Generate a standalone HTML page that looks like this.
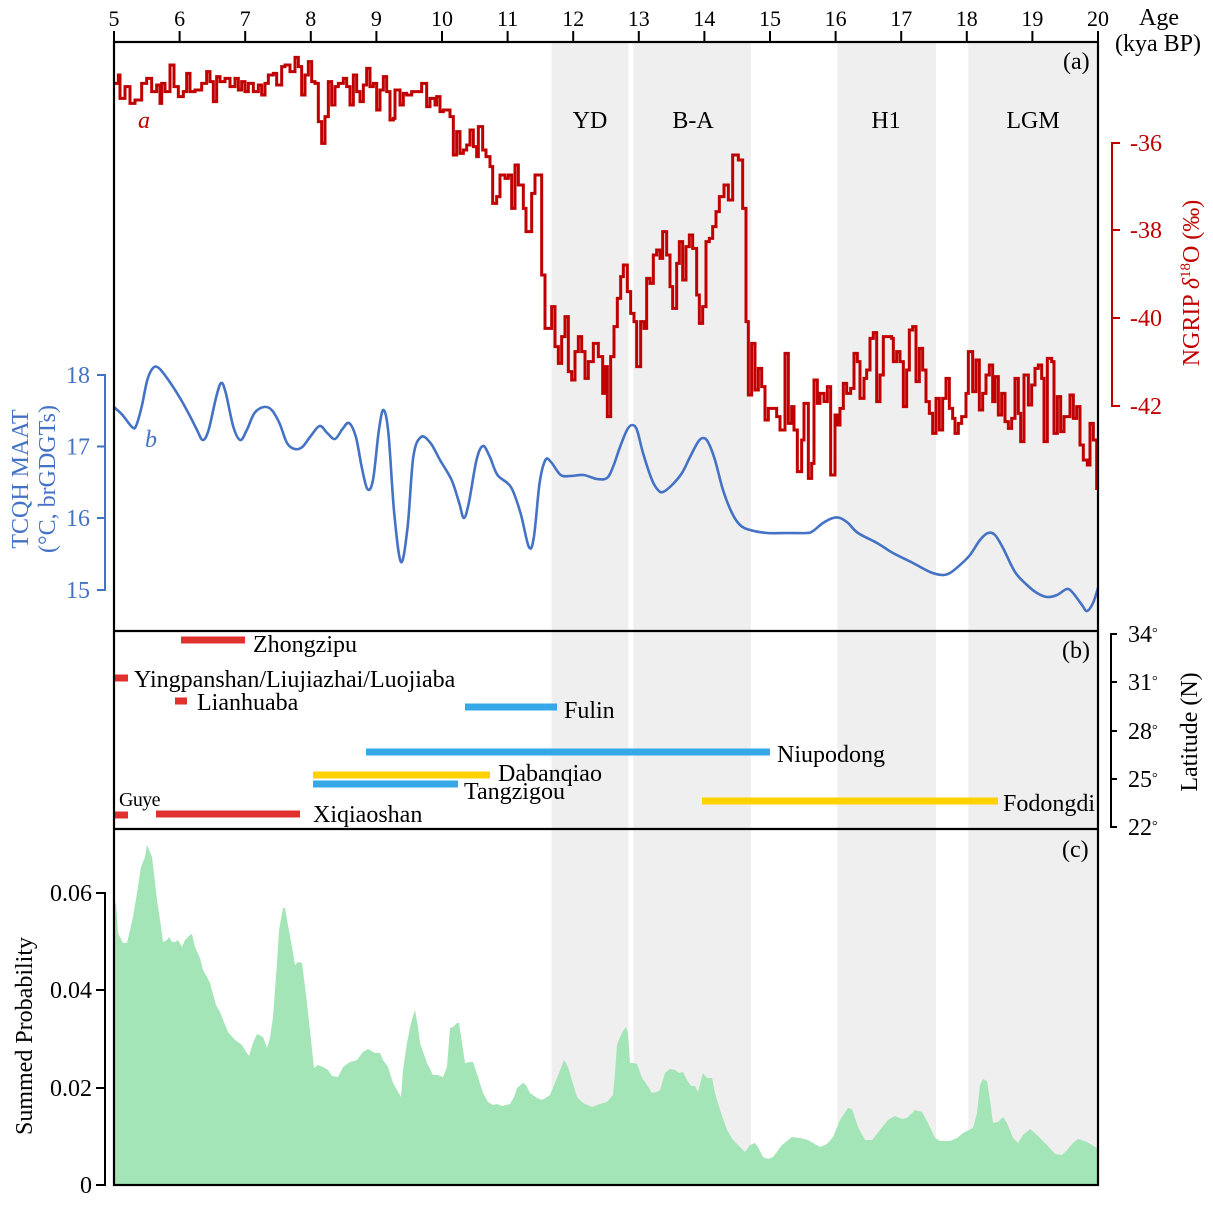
<!DOCTYPE html>
<html><head><meta charset="utf-8"><style>
html,body{margin:0;padding:0;background:#fff;}
svg{display:block;}
text{font-family:"Liberation Serif","DejaVu Serif",serif;}
</style></head><body>
<svg id="chart" width="1213" height="1207" viewBox="0 0 1213 1207" xmlns="http://www.w3.org/2000/svg">
<defs><clipPath id="pa"><rect x="114" y="43" width="984" height="588"/></clipPath></defs>
<rect width="1213" height="1207" fill="#fff"/>
<!-- bands -->
<g fill="#efefef">
<rect x="551.5" y="43" width="77" height="1142"/>
<rect x="633.3" y="43" width="117.5" height="1142"/>
<rect x="837.3" y="43" width="98.7" height="1142"/>
<rect x="968.3" y="43" width="129.7" height="1142"/>
</g>
<!-- green area -->
<polygon fill="#a3e5b6" points="114,1185 114,905 116,903 118,933 123,943 127,943 130,930 133,917 137,893 141,867 145,857 147,845 150,852 152,857 157,900 159,913 161,927 163,942 167,940 169,937 172,942 175,942 178,940 182,947 185,940 190,935 192,934 195,947 200,958 203,970 207,977 210,983 216,1005 220,1012 228,1032 235,1040 242,1045 245,1050 249,1056 253,1043 257,1034 263,1037 267,1048 270,1038 273,1017 277,963 279,930 283,908 285,908 287,920 292,947 295,965 298,962 302,963 307,1003 314,1068 318,1065 323,1067 328,1070 332,1076 338,1077 343,1067 350,1062 357,1060 363,1052 368,1049 375,1053 380,1053 383,1060 388,1067 393,1083 397,1090 401,1097 403,1070 407,1043 411,1023 415,1010 418,1027 420,1043 427,1063 433,1075 438,1075 443,1077 447,1067 450,1028 453,1027 457,1023 459,1023 462,1043 465,1063 470,1062 473,1062 478,1077 483,1093 488,1102 493,1105 497,1104 502,1106 510,1104 514,1097 517,1088 523,1083 526,1085 530,1093 537,1098 542,1100 550,1095 557,1078 564,1060 568,1067 577,1097 583,1103 592,1107 600,1104 607,1102 613,1095 615,1073 617,1045 620,1037 623,1031 626,1027 628,1033 630,1063 633,1063 637,1064 642,1078 647,1085 652,1093 657,1092 660,1090 665,1073 670,1069 675,1070 679,1073 683,1072 687,1080 691,1086 695,1086 698,1092 703,1073 707,1078 712,1078 715,1093 720,1110 727,1130 733,1140 745,1152 750,1145 755,1143 758,1147 763,1157 768,1159 773,1157 782,1145 792,1137 800,1138 808,1140 820,1147 827,1144 833,1137 840,1120 848,1108 852,1109 858,1127 865,1140 872,1140 880,1130 888,1120 895,1116 902,1119 907,1118 912,1113 915,1110 922,1112 928,1123 935,1138 940,1141 950,1141 957,1138 963,1133 973,1128 977,1113 980,1085 983,1079 987,1081 990,1100 993,1123 998,1122 1003,1117 1007,1123 1013,1138 1018,1143 1023,1135 1030,1129 1037,1135 1047,1145 1055,1154 1062,1155 1067,1150 1073,1143 1078,1139 1087,1142 1097,1148 1098,1149 1098,1185"/>
<!-- panel b bars -->
<g stroke-width="7" fill="none">
<line x1="181" y1="640" x2="245" y2="640" stroke="#e0312f"/>
<line x1="115" y1="678" x2="128" y2="678" stroke="#e0312f"/>
<line x1="175" y1="701" x2="187" y2="701" stroke="#e0312f"/>
<line x1="465" y1="707" x2="557" y2="707" stroke="#36a8e8"/>
<line x1="366" y1="752" x2="770" y2="752" stroke="#36a8e8"/>
<line x1="313" y1="775" x2="490" y2="775" stroke="#ffd200"/>
<line x1="313" y1="784" x2="458" y2="784" stroke="#36a8e8"/>
<line x1="702" y1="801" x2="998" y2="801" stroke="#ffd200"/>
<line x1="115" y1="815" x2="128" y2="815" stroke="#e0312f"/>
<line x1="156" y1="814" x2="300" y2="814" stroke="#e0312f"/>
</g>
<g font-size="24" fill="#000">
<text x="253" y="652">Zhongzipu</text>
<text x="134" y="687">Yingpanshan/Liujiazhai/Luojiaba</text>
<text x="197" y="710">Lianhuaba</text>
<text x="564" y="718">Fulin</text>
<text x="777" y="762">Niupodong</text>
<text x="498" y="781">Dabanqiao</text>
<text x="464" y="799">Tangzigou</text>
<text x="119" y="806" font-size="20" letter-spacing="-0.6">Guye</text>
<text x="313" y="822">Xiqiaoshan</text>
<text x="1003" y="811">Fodongdi</text>
</g>
<!-- red NGRIP step curve -->
<g clip-path="url(#pa)">
<polyline transform="translate(110,50) scale(0.333333)" vector-effect="non-scaling-stroke" fill="none" stroke="#c00000" stroke-width="3" stroke-linejoin="miter" points="15,100 25,100 25,75 30,75 30,145 45,145 45,110 60,110 60,160 75,160 75,150 95,150 95,100 110,100 110,85 125,85 125,125 140,125 140,105 150,105 150,160 155,160 155,100 165,100 165,125 180,125 180,45 192,45 192,110 205,110 205,140 220,140 220,125 230,125 230,70 240,70 240,125 255,125 255,120 275,120 275,100 290,100 290,65 300,65 300,95 310,95 310,155 320,155 320,80 330,80 330,95 345,95 345,85 360,85 360,110 375,110 375,85 385,85 385,120 395,120 395,95 405,95 405,125 415,125 415,100 430,100 430,125 445,125 445,105 455,105 455,135 465,135 465,100 475,100 475,75 490,75 490,70 500,70 500,105 515,105 515,50 525,50 525,45 540,45 540,65 555,65 555,22 565,22 565,50 575,50 575,135 585,135 585,75 595,75 595,35 605,35 605,95 615,95 615,100 625,100 625,215 635,215 635,280 645,280 645,200 655,200 655,95 665,95 665,165 675,165 675,110 685,110 685,100 700,100 700,85 710,85 710,110 720,110 720,165 730,165 730,75 740,75 740,125 750,125 750,155 760,155 760,105 770,105 770,55 780,55 780,110 790,110 790,100 800,100 800,180 810,180 810,120 820,120 820,80 830,80 830,125 840,125 840,210 850,210 850,205 855,205 855,120 870,120 870,165 880,165 880,130 890,130 890,135 905,135 905,125 935,125 935,100 950,100 950,170 960,170 960,145 975,145 975,165 980,165 980,140 990,140 990,185 1000,185 1000,180 1020,180 1020,200 1030,200 1030,315 1040,315 1040,245 1050,245 1050,310 1060,310 1060,300 1070,300 1070,285 1080,285 1080,240 1090,240 1090,290 1100,290 1100,320 1105,320 1105,230 1118,230 1118,300 1128,300 1128,320 1140,320 1140,350 1148,350 1148,460 1160,460 1160,440 1170,440 1170,375 1185,375 1185,385 1195,385 1195,375 1205,375 1205,475 1215,475 1215,345 1225,345 1225,405 1240,405 1240,475 1248,475 1248,545 1265,545 1265,430 1275,430 1275,375 1295,375 1295,675 1305,675 1305,835 1325,835 1325,770 1335,770 1335,890 1345,890 1345,940 1355,940 1355,860 1365,860 1365,800 1375,800 1375,965 1385,965 1385,990 1395,990 1395,905 1405,905 1405,860 1415,860 1415,905 1425,905 1425,985 1435,985 1435,935 1450,935 1450,880 1465,880 1465,920 1470,920"/>
<polyline transform="translate(600,140) scale(0.333333)" vector-effect="non-scaling-stroke" fill="none" stroke="#c00000" stroke-width="3" points="0,650 8,650 8,760 15,760 15,680 22,680 22,830 32,830 32,650 42,650 42,560 52,560 52,475 62,475 62,410 70,410 70,375 82,375 82,455 92,455 92,520 102,520 102,545 110,545 110,680 122,680 122,545 132,545 132,565 140,565 140,415 150,415 150,430 160,430 160,345 170,345 170,330 180,330 180,355 188,355 188,275 200,275 200,345 210,345 210,440 218,440 218,505 230,505 230,370 238,370 238,305 248,305 248,420 258,420 258,320 268,320 268,285 278,285 278,325 290,325 290,465 298,465 298,550 308,550 308,500 318,500 318,305 328,305 328,295 338,295 338,260 348,260 348,215 358,215 358,170 372,170 372,135 385,135 385,180 398,180 398,45 415,45 415,60 428,60 428,205 438,205 438,545 445,545 445,765 455,765 455,610 465,610 465,750 475,750 475,685 485,685 485,740 495,740 495,840 505,840 505,805 530,805 530,830 540,830 540,870 555,870 555,640 565,640 565,850 575,850 575,800 582,800 582,870 592,870 592,995 605,995 605,900 612,900 612,790 625,790 625,1015 635,1015 635,970 642,970 642,720 652,720 652,790 660,790 660,760 672,760 672,785 682,785 682,740 692,740 692,1005 705,1005 705,825 712,825 712,855 720,855 720,805 730,805 730,730 740,730 740,760 752,760 752,745 762,745 762,640 772,640 772,665 780,665 780,775 792,775 792,715 800,715 800,690 810,690 810,595 820,595 820,578 830,578 830,785 840,785 840,705 850,705 850,590 875,590 875,595 880,595 880,665 890,665 890,635 900,635 900,665 910,665 910,800 920,800 920,690 928,690 928,570 938,570 938,560 948,560 948,725 958,725 958,625 968,625 968,690 978,690 978,785 988,785 988,820 998,820 998,880 1008,880 1008,775 1018,775 1018,870 1028,870 1028,775 1038,775 1038,715 1048,715 1048,805 1058,805 1058,835 1065,835 1065,880 1075,880 1075,850 1085,850 1085,830 1098,830 1098,760 1105,760 1105,635 1118,635 1118,755 1128,755 1128,660 1138,660 1138,810 1148,810 1148,760 1158,760 1158,705 1168,705 1168,675 1178,675 1178,785 1185,785 1185,710 1195,710 1195,825 1205,825 1205,760 1215,760 1215,845 1225,845 1225,865 1235,865 1235,835 1245,835 1245,715 1255,715 1255,820 1262,820 1262,905 1272,905 1272,705 1285,705 1285,795 1295,795 1295,735 1305,735 1305,685 1315,685 1315,675 1325,675 1325,715 1332,715 1332,905 1342,905 1342,655 1355,655 1355,665 1362,665 1362,880 1372,880 1372,770 1382,770 1382,875 1392,875 1392,830 1410,830 1410,765 1420,765 1420,835 1430,835 1430,800 1440,800 1440,915 1450,915 1450,960 1462,960 1462,975 1470,975 1470,850 1480,850 1480,900 1490,900 1490,1050"/>
<!-- blue MAAT curve -->
<polyline id="blue" fill="none" stroke="#4472c4" stroke-width="2.6" stroke-linejoin="round" stroke-linecap="round" points="114,407 115,408 122.5,415 132,427 136,426 141.6,407 147.3,380 153,368 158.8,368 168.4,380 180,398 189.4,415 197,430 202.8,440 208.6,430 216.2,397 221.2,383 225.8,393 233.4,427 240.3,440 246.8,430 254.5,413 264,407 271.7,410 279.4,423 287,443 294.7,449 302.3,447 310,437 319.6,426 327.2,433 334.9,439 342.5,429 349,423 355.9,437 361.7,467 367.4,489 373,480 378.9,430 383.5,410 388.4,433 394.2,513 401,562 407.6,527 413.3,457 421,437 430.5,443 440,460 451.6,480 459.2,503 463.8,518 468.8,503 476.5,460 483,446 489.9,457 497.5,475 510.9,487 520.5,513 528.9,547 533.9,537 539.6,483 545.4,460 551,462 560.7,475 570.2,476 583.6,475 597,479 607,478 613,467 620,447 627,430 632,425 637,430 643,453 652,480 658,490 663,492 672,485 682,473 690,457 698,442 703,438 708,442 715,460 723,490 732,513 740,525 750,530 767,533 787,533 807,533 813,531 823,523 833,518 840,518 848,523 858,533 877,543 893,553 913,563 930,572 942,575 950,573 960,565 970,555 980,540 988,533 995,535 1003,548 1015,572 1027,585 1037,593 1047,597 1057,595 1067,589 1073,593 1082,605 1087,611 1093,603 1098,588"/>
</g>
<!-- frames -->
<g stroke="#000" stroke-width="2.2" fill="none">
<rect x="114" y="42" width="984" height="1143"/>
<line x1="114" y1="631" x2="1098" y2="631"/>
<line x1="114" y1="829" x2="1098" y2="829"/>
</g>
<!-- top ticks -->
<g stroke="#000" stroke-width="2">
<line x1="114" y1="31" x2="114" y2="42"/><line x1="179.6" y1="31" x2="179.6" y2="42"/><line x1="245.2" y1="31" x2="245.2" y2="42"/><line x1="310.8" y1="31" x2="310.8" y2="42"/><line x1="376.4" y1="31" x2="376.4" y2="42"/><line x1="442" y1="31" x2="442" y2="42"/><line x1="507.6" y1="31" x2="507.6" y2="42"/><line x1="573.2" y1="31" x2="573.2" y2="42"/><line x1="638.8" y1="31" x2="638.8" y2="42"/><line x1="704.4" y1="31" x2="704.4" y2="42"/><line x1="770" y1="31" x2="770" y2="42"/><line x1="835.6" y1="31" x2="835.6" y2="42"/><line x1="901.2" y1="31" x2="901.2" y2="42"/><line x1="966.8" y1="31" x2="966.8" y2="42"/><line x1="1032.4" y1="31" x2="1032.4" y2="42"/><line x1="1098" y1="31" x2="1098" y2="42"/>
</g>
<g font-size="22" text-anchor="middle" fill="#000">
<text x="114" y="26">5</text><text x="179.6" y="26">6</text><text x="245.2" y="26">7</text><text x="310.8" y="26">8</text><text x="376.4" y="26">9</text><text x="442" y="26">10</text><text x="507.6" y="26">11</text><text x="573.2" y="26">12</text><text x="638.8" y="26">13</text><text x="704.4" y="26">14</text><text x="770" y="26">15</text><text x="835.6" y="26">16</text><text x="901.2" y="26">17</text><text x="966.8" y="26">18</text><text x="1032.4" y="26">19</text><text x="1098" y="26">20</text>
</g>
<g font-size="24" fill="#000">
<text x="1159" y="25" text-anchor="middle">Age</text>
<text x="1158" y="51" text-anchor="middle">(kya BP)</text>
<text x="1063" y="69">(a)</text>
<text x="1062" y="658">(b)</text>
<text x="1062" y="857">(c)</text>
<text x="590" y="128" text-anchor="middle">YD</text>
<text x="693" y="128" text-anchor="middle">B-A</text>
<text x="886" y="128" text-anchor="middle">H1</text>
<text x="1033" y="128" text-anchor="middle">LGM</text>
</g>
<text x="138" y="128" font-size="24" font-style="italic" fill="#c00000">a</text>
<text x="145" y="447" font-size="24" font-style="italic" fill="#4472c4">b</text>
<!-- red axis -->
<g stroke="#c00000" stroke-width="2" fill="none">
<line x1="1112" y1="142" x2="1112" y2="407"/>
<line x1="1111" y1="143" x2="1120" y2="143"/><line x1="1111" y1="230" x2="1120" y2="230"/><line x1="1111" y1="318" x2="1120" y2="318"/><line x1="1111" y1="406" x2="1120" y2="406"/>
</g>
<g font-size="24" fill="#c00000">
<text x="1130" y="151">-36</text><text x="1130" y="238">-38</text><text x="1130" y="326">-40</text><text x="1130" y="414">-42</text>
<text transform="translate(1199,283) rotate(-90)" text-anchor="middle">NGRIP <tspan font-style="italic">δ</tspan><tspan font-size="15" dy="-9">18</tspan><tspan dy="9">O (‰)</tspan></text>
</g>
<!-- blue axis -->
<g stroke="#4472c4" stroke-width="2" fill="none">
<line x1="105" y1="374" x2="105" y2="591"/>
<line x1="97" y1="375" x2="106" y2="375"/><line x1="97" y1="446.5" x2="106" y2="446.5"/><line x1="97" y1="518" x2="106" y2="518"/><line x1="97" y1="590" x2="106" y2="590"/>
</g>
<g font-size="24" fill="#4472c4" text-anchor="end">
<text x="90" y="383">18</text><text x="90" y="454.5">17</text><text x="90" y="526">16</text><text x="90" y="598">15</text>
</g>
<g font-size="24" fill="#4472c4" text-anchor="middle">
<text transform="translate(28,479) rotate(-90)">TCQH MAAT</text>
<text transform="translate(55,479) rotate(-90)">(°C, brGDGTs)</text>
</g>
<!-- latitude axis -->
<g stroke="#000" stroke-width="2" fill="none">
<line x1="1111" y1="633" x2="1111" y2="828"/>
<line x1="1110" y1="634" x2="1117" y2="634"/><line x1="1110" y1="682" x2="1117" y2="682"/><line x1="1110" y1="731" x2="1117" y2="731"/><line x1="1110" y1="779" x2="1117" y2="779"/><line x1="1110" y1="827" x2="1117" y2="827"/>
</g>
<g font-size="24" fill="#000">
<text x="1128" y="642">34<tspan font-size="14" dy="-5">°</tspan></text>
<text x="1128" y="690">31<tspan font-size="14" dy="-5">°</tspan></text>
<text x="1128" y="739">28<tspan font-size="14" dy="-5">°</tspan></text>
<text x="1128" y="787">25<tspan font-size="14" dy="-5">°</tspan></text>
<text x="1128" y="835">22<tspan font-size="14" dy="-5">°</tspan></text>
<text transform="translate(1197,732) rotate(-90)" text-anchor="middle">Latitude (N)</text>
</g>
<!-- panel c axis -->
<g stroke="#000" stroke-width="2" fill="none">
<line x1="105" y1="892" x2="105" y2="1186"/>
<line x1="96" y1="893" x2="106" y2="893"/><line x1="96" y1="990" x2="106" y2="990"/><line x1="96" y1="1088" x2="106" y2="1088"/><line x1="96" y1="1185" x2="106" y2="1185"/>
</g>
<g font-size="24" fill="#000" text-anchor="end">
<text x="92" y="901">0.06</text><text x="92" y="998">0.04</text><text x="92" y="1096">0.02</text><text x="92" y="1193">0</text>
</g>
<text transform="translate(32,1036) rotate(-90)" text-anchor="middle" font-size="24" fill="#000">Summed Probability</text>
</svg>
<script>
(function(){
  try{
    var pl=document.getElementById('blue');
    var raw=pl.getAttribute('points').trim().split(/\s+/).map(function(s){var a=s.split(',');return [parseFloat(a[0]),parseFloat(a[1])];});
    var d='M'+raw[0][0]+','+raw[0][1];
    for(var i=0;i<raw.length-1;i++){
      var p0=raw[i-1]||raw[i],p1=raw[i],p2=raw[i+1],p3=raw[i+2]||raw[i+1];
      var c1x=p1[0]+(p2[0]-p0[0])/6,c1y=p1[1]+(p2[1]-p0[1])/6;
      var c2x=p2[0]-(p3[0]-p1[0])/6,c2y=p2[1]-(p3[1]-p1[1])/6;
      d+=' C'+c1x.toFixed(2)+','+c1y.toFixed(2)+' '+c2x.toFixed(2)+','+c2y.toFixed(2)+' '+p2[0]+','+p2[1];
    }
    var p=document.createElementNS('http://www.w3.org/2000/svg','path');
    p.setAttribute('d',d);
    p.setAttribute('fill','none');
    p.setAttribute('stroke','#4472c4');
    p.setAttribute('stroke-width','2.6');
    p.setAttribute('stroke-linejoin','round');
    p.setAttribute('stroke-linecap','round');
    pl.parentNode.replaceChild(p,pl);
  }catch(e){}
})();
</script>
</body></html>
